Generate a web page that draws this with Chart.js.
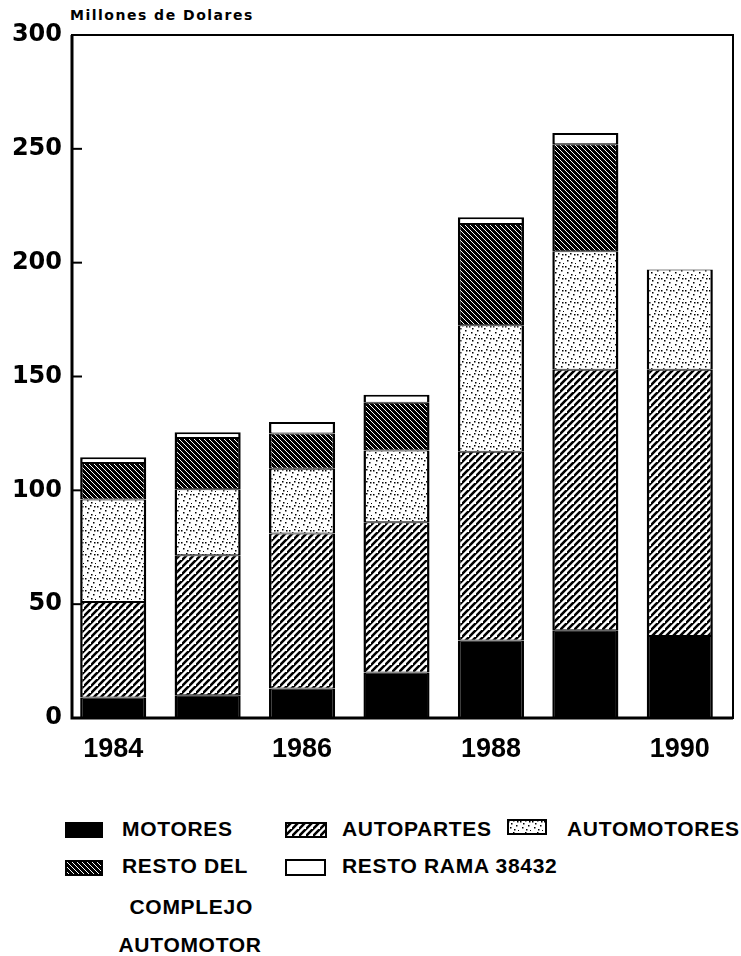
<!DOCTYPE html>
<html>
<head>
<meta charset="utf-8">
<script src="https://cdn.jsdelivr.net/npm/chart.js@4.4.1/dist/chart.umd.min.js"></script>
<style>
  body { margin: 0; background: #fff; width: 741px; height: 956px; position: relative; overflow: hidden; font-family: "Liberation Sans", Arial, sans-serif; font-weight: bold; color: #000; }
  #title { position: absolute; left: 70px; top: 5px; font-family: "DejaVu Sans", sans-serif; font-size: 14px; line-height: 20px; letter-spacing: 1.5px; }
  #chart { position: absolute; left: 0; top: 0; }
  .item { position: absolute; font-size: 21px; line-height: 26px; letter-spacing: 0.7px; white-space: nowrap; }
  .sw { position: absolute; }
</style>
</head>
<body>
<div id="title">Millones de Dolares</div>
<canvas id="chart" width="741" height="775"></canvas>
<div id="legend"></div>
<script>
// values in millions of dollars
const years = ['1984', '1985', '1986', '1987', '1988', '1989', '1990'];
const motores = [9, 10, 13, 20, 34, 38.5, 36];
const autopartes = [42, 61.5, 68, 66, 83, 114.5, 117];
const automotores = [45, 29, 28.5, 31.5, 55.5, 52, 44];
const restoComplejo = [16, 22.5, 15.5, 21, 44.5, 47, 0];
const restoRama = [2.5, 2.5, 5, 3.5, 3, 5, 0];
const yTicks = [0, 50, 100, 150, 200, 250, 300];

function makeTile(w, h, draw) {
  const c = document.createElement('canvas');
  c.width = w; c.height = h;
  const g = c.getContext('2d');
  draw(g, w, h);
  return g.createPattern(c, 'repeat');
}

// "/" hatch, white background
const hatchUp = makeTile(7, 7, (g, w, h) => {
  g.fillStyle = '#fff'; g.fillRect(0, 0, w, h);
  g.strokeStyle = '#000'; g.lineWidth = 2.6;
  g.beginPath();
  g.moveTo(-1, h + 1); g.lineTo(w + 1, -1);
  g.moveTo(-1 - w, h + 1); g.lineTo(1, -1);
  g.moveTo(w - 1, 2 * h + 1); g.lineTo(2 * w + 1, h - 1);
  g.stroke();
});

// "\" hatch, dark
const hatchDown = makeTile(5, 5, (g, w, h) => {
  g.fillStyle = '#000'; g.fillRect(0, 0, w, h);
  g.strokeStyle = '#fff'; g.lineWidth = 1;
  g.beginPath();
  g.moveTo(-1, -1); g.lineTo(w + 1, h + 1);
  g.moveTo(w - 1, -1); g.lineTo(2 * w + 1, h + 1);
  g.moveTo(-w - 1, -1); g.lineTo(1, h + 1);
  g.stroke();
});

// stipple
const dots = makeTile(12, 12, (g, w, h) => {
  g.fillStyle = '#fff'; g.fillRect(0, 0, w, h);
  g.fillStyle = '#000';
  [[1, 2], [6, 1], [9, 6], [3, 8], [7, 10], [11, 11], [4, 4], [10, 2]].forEach(p => g.fillRect(p[0], p[1], 1.5, 1.5));
});

const series = [
  { label: 'MOTORES', data: motores, fill: '#000' },
  { label: 'AUTOPARTES', data: autopartes, fill: hatchUp },
  { label: 'AUTOMOTORES', data: automotores, fill: dots },
  { label: 'RESTO DEL COMPLEJO AUTOMOTOR', data: restoComplejo, fill: hatchDown },
  { label: 'RESTO RAMA 38432', data: restoRama, fill: '#fff' }
];

// the printed frame sits a few pixels right of the category band
const FRAME_SHIFT = 6;

const framePlugin = {
  id: 'frame',
  afterDraw(chart) {
    const ctx = chart.ctx;
    const a = chart.chartArea;
    const y = chart.scales.y;
    const l = a.left + FRAME_SHIFT, r = a.right + FRAME_SHIFT;
    ctx.save();
    ctx.strokeStyle = '#000';
    ctx.lineWidth = 2;
    ctx.strokeRect(l, a.top, r - l, a.bottom - a.top);
    ctx.lineWidth = 3;
    ctx.beginPath();
    ctx.moveTo(l, a.top); ctx.lineTo(l, a.bottom); ctx.lineTo(r, a.bottom);
    ctx.stroke();
    ctx.lineWidth = 2;
    yTicks.forEach(v => {
      if (v === 0 || v === 300) return;
      const py = y.getPixelForValue(v);
      ctx.beginPath();
      ctx.moveTo(l, py); ctx.lineTo(l + 10, py);
      ctx.stroke();
    });
    ctx.restore();
  }
};

new Chart(document.getElementById('chart'), {
  type: 'bar',
  data: {
    labels: years,
    datasets: series.map((s, i) => ({
      label: s.label,
      data: s.data,
      backgroundColor: s.fill,
      borderColor: '#000',
      borderWidth: { top: i === series.length - 1 ? 2 : 1, bottom: 1, left: 2.5, right: 2.5 },
      borderSkipped: false,
      categoryPercentage: 1,
      barPercentage: 0.7
    }))
  },
  options: {
    responsive: false,
    animation: false,
    layout: { padding: { top: 35, right: 14, left: 0, bottom: 0 } },
    plugins: { legend: { display: false }, tooltip: { enabled: false } },
    scales: {
      x: {
        stacked: true,
        grid: { display: false, drawTicks: false },
        border: { display: false },
        ticks: {
          autoSkip: false, maxRotation: 0, padding: 15, color: '#000',
          font: { family: 'Liberation Sans', weight: 'bold', size: 27 },
          callback: (v, i) => (i % 2 === 0 ? years[i] : '')
        },
        afterFit: s => { s.height = 57; }
      },
      y: {
        stacked: true,
        min: 0, max: 300,
        grid: { display: false, drawTicks: false },
        border: { display: false },
        ticks: {
          stepSize: 50, padding: 4, color: '#000',
          font: { family: 'DejaVu Sans', weight: 'bold', size: 24 }
        },
        afterBuildTicks: s => { s.ticks = yTicks.map(v => ({ value: v })); },
        afterFit: s => { s.width = 66; }
      }
    }
  },
  plugins: [framePlugin]
});

// legend: swatch box [x, y, w, h], text lines as [centre-or-left x, centre y]
const legendItems = [
  { s: 0, box: [65, 822, 38, 16], lines: [['MOTORES', 122, 830, 'left']] },
  { s: 1, box: [285, 822, 42, 16], lines: [['AUTOPARTES', 342, 830, 'left']] },
  { s: 2, box: [507, 819, 40, 16], lines: [['AUTOMOTORES', 567, 830, 'left']] },
  { s: 3, box: [65, 860, 38, 16], lines: [['RESTO DEL', 122, 867, 'left'], ['COMPLEJO', 191, 908, 'center'], ['AUTOMOTOR', 190, 946, 'center']] },
  { s: 4, box: [285, 859, 41, 17], lines: [['RESTO RAMA 38432', 342, 867, 'left']] }
];
const legend = document.getElementById('legend');
legendItems.forEach(it => {
  const c = document.createElement('canvas');
  c.className = 'sw';
  c.width = it.box[2]; c.height = it.box[3];
  c.style.left = it.box[0] + 'px'; c.style.top = it.box[1] + 'px';
  const g = c.getContext('2d');
  g.fillStyle = series[it.s].fill;
  g.fillRect(0, 0, c.width, c.height);
  if (it.s !== 0) { g.strokeStyle = '#000'; g.lineWidth = 2; g.strokeRect(1, 1, c.width - 2, c.height - 2); }
  legend.appendChild(c);
  it.lines.forEach(([txt, x, cy, align]) => {
    const d = document.createElement('div');
    d.className = 'item';
    d.textContent = txt;
    d.style.top = (cy - 14) + 'px';
    legend.appendChild(d);
    if (align === 'center') d.style.left = (x - d.offsetWidth / 2) + 'px';
    else d.style.left = x + 'px';
  });
});
</script>
</body>
</html>
